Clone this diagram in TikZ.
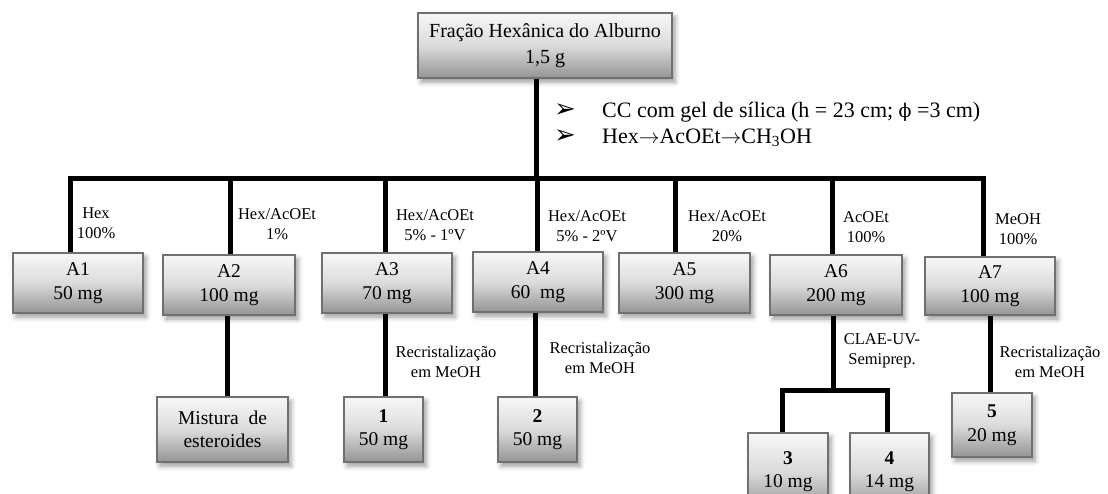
\documentclass[tikz,border=0pt]{standalone}
\usepackage{fontspec}
\setmainfont{Liberation Serif}
\newfontfamily\dvs{DejaVu Sans}
\newfontfamily\dvserif{DejaVu Serif}
\usetikzlibrary{shadows.blur}
\definecolor{boxgray}{HTML}{707070}
\newcommand{\boxfnt}{\fontsize{19.5}{23.5}\selectfont}
\newcommand{\topfnt}{\fontsize{20}{26}\selectfont}
\newcommand{\labfnt}{\fontsize{16.5}{20.5}\selectfont}
\newcommand{\bulfnt}{\fontsize{22}{26}\selectfont}
\begin{document}
\begin{tikzpicture}[x=1pt,y=-1pt,
  bx/.style={draw=boxgray, line width=2.5pt, top color=black!3, bottom color=black!42, middle color=black!14,
    blur shadow={shadow xshift=3pt, shadow yshift=-4pt, shadow blur radius=5pt, shadow opacity=40},
    align=center, inner sep=0pt, font=\boxfnt, minimum width=130pt, minimum height=60pt},
  sbx/.style={bx, minimum width=79pt, minimum height=65pt},
  conn/.style={line width=5pt, black, line join=miter},
  lab/.style={align=center, inner sep=0pt, font=\labfnt},
  bul/.style={inner sep=0pt, font=\dvs\fontsize{26}{26}\selectfont}]
\useasboundingbox (0,0) rectangle (1108,493);

% top box
\node[bx, font=\topfnt, minimum width=254pt, minimum height=65pt] (top) at (545,45.5) {Fração Hexânica do Alburno\\1,5 g};

% bullets
\node[bul] (ar1) at (565,111) {➢};
\node[bul] (ar2) at (565,137) {➢};
\node[anchor=west, inner sep=0pt, font=\bulfnt] (bt1) at (602,112) {CC com gel de sílica (h = 23 cm; {\dvserif\fontsize{19}{19}\selectfont ϕ} =3 cm)};
\node[anchor=west, inner sep=0pt, font=\bulfnt] (bt2) at (602,138) {Hex$\rightarrow$AcOEt$\rightarrow$CH\textsubscript{3}OH};

% A boxes
\node[bx] (A1) at (78,283) {A1\\50 mg};
\node[bx, minimum width=132pt] (A2) at (229,285) {A2\\100 mg};
\node[bx] (A3) at (387,283) {A3\\70 mg};
\node[bx] (A4) at (538,282) {A4\\60\ \ mg};
\node[bx, minimum width=131pt] (A5) at (684.5,283) {A5\\300 mg};
\node[bx, minimum width=132pt] (A6) at (836,285) {A6\\200 mg};
\node[bx, minimum height=58pt] (A7) at (990,286) {A7\\100 mg};

% lower boxes
\node[bx, minimum width=131pt, minimum height=65pt] (mist) at (222.5,429.5) {Mistura\ \ de\\esteroides};
\node[sbx] (c1) at (383.5,429.5) {\textbf{1}\\50 mg};
\node[sbx] (c2) at (537.5,429.5) {\textbf{2}\\50 mg};
\node[sbx, minimum width=80pt, minimum height=77pt] (c3) at (788,471.5) {\textbf{3}\\10 mg};
\node[sbx, minimum height=77pt] (c4) at (889.5,471.5) {\textbf{4}\\14 mg};
\node[sbx, minimum width=80pt, minimum height=64pt] (c5) at (992,425) {\textbf{5}\\20 mg};

% connector coordinates
\coordinate (stem) at (536,178);
\coordinate (b1) at (70,178);
\coordinate (b2) at (230,178);
\coordinate (b3) at (385,178);
\coordinate (b4) at (537,178);
\coordinate (b5) at (675,178);
\coordinate (b6) at (832,178);
\coordinate (b7) at (983,178);
\coordinate (m2) at (227,0);
\coordinate (m3) at (385,0);
\coordinate (m4) at (535,0);
\coordinate (m6) at (833,390);
\coordinate (k3) at (782,390);
\coordinate (k4) at (887,390);
\coordinate (m7) at (990,0);

% connectors
\draw[conn] (top.south -| stem) -- (stem);
\draw[conn] (A1.north -| b1) -- (b1) -- (b7) -- (A7.north -| b7);
\draw[conn] (A2.north -| b2) -- (b2);
\draw[conn] (A3.north -| b3) -- (b3);
\draw[conn] (A4.north -| b4) -- (b4);
\draw[conn] (A5.north -| b5) -- (b5);
\draw[conn] (A6.north -| b6) -- (b6);
\draw[conn] (A2.south -| m2) -- (mist.north -| m2);
\draw[conn] (A3.south -| m3) -- (c1.north -| m3);
\draw[conn] (A4.south -| m4) -- (c2.north -| m4);
\draw[conn] (A6.south -| m6) -- (m6);
\draw[conn] (c3.north -| k3) -- (k3) -- (k4) -- (c4.north -| k4);
\draw[conn] (A7.south -| m7) -- (c5.north -| m7);

% labels
\node[lab] (l1) at (96,223) {Hex\\100\%};
\node[lab] (l2) at (277,224) {Hex/AcOEt\\1\%};
\node[lab] (l3) at (435,225) {Hex/AcOEt\\5\% - 1ºV};
\node[lab] (l4) at (587,226) {Hex/AcOEt\\5\% - 2ºV};
\node[lab] (l5) at (727,226) {Hex/AcOEt\\20\%};
\node[lab] (l6) at (866,227) {AcOEt\\100\%};
\node[lab] (l7) at (1018,229) {MeOH\\100\%};
\node[lab] (r1) at (446,362) {Recristalização\\em MeOH};
\node[lab] (r2) at (600,358) {Recristalização\\em MeOH};
\node[lab] (r3) at (882,351) {CLAE-UV-\\Semiprep.};
\node[lab] (r4) at (1050,362) {Recristalização\\em MeOH};
\end{tikzpicture}
\end{document}
